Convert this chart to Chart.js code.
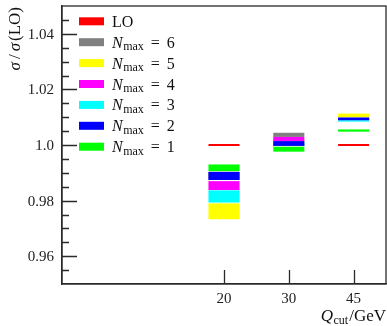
<!DOCTYPE html>
<html>
<head>
<meta charset="utf-8">
<script src="https://cdn.jsdelivr.net/npm/chart.js@4.4.0/dist/chart.umd.min.js"></script>
<style>
  html, body { margin: 0; padding: 0; background: #fff; }
  #wrap { width: 387px; height: 326px; }
</style>
</head>
<body>
<div id="wrap"><canvas id="myChart" width="387" height="326"></canvas></div>
<script>
// Q_cut categories (two empty slots keep the left part of the axis free)
const qcut = ["20", "30", "45"];
const emptySlots = ["", ""];

// y axis ticks
const yTicks = [0.96, 0.98, 1.0, 1.02, 1.04];
const yTickLabels = ["0.96", "0.98", "1.0", "1.02", "1.04"];
const yMinorTicks = [0.955, 0.965, 0.97, 0.975, 0.985, 0.99, 0.995,
  1.005, 1.01, 1.015, 1.025, 1.03, 1.035, 1.045];

// sigma / sigma(LO), bands [low, high] per Q_cut
const loValues = [1.0, 1.0, 1.0];
const nmax1 = [[0.9906, 0.9930], [0.9976, 0.9994], [1.0048, 1.0056]];
const nmax2 = [[0.9874, 0.9903], [0.9997, 1.0014], [1.0089, 1.0099]];
const nmax3 = [[0.9793, 0.9837], [0.9998, 1.0012], [1.0084, 1.0089]];
const nmax4 = [[0.9838, 0.9870], [1.0014, 1.0029], [1.0090, 1.0096]];
const nmax5 = [[0.9733, 0.9790], [1.0005, 1.0025], [1.0099, 1.0113]];
const nmax6 = [[0.9876, 0.9904], [1.0029, 1.0044], [1.0090, 1.0097]];

const nmaxNames = ["1", "2", "3", "4", "5", "6"];
const nmaxBands = [nmax1, nmax2, nmax3, nmax4, nmax5, nmax6];
const nmaxColors = ["#00ff00", "#0000ff", "#00ffff", "#ff00ff", "#ffff00", "#808080"];
const loColor = "#ff0000";

const SERIF = "'Liberation Serif', serif";

function drawPieces(ctx, pieces, x, y) {
  pieces.forEach((p) => {
    ctx.font = p.font;
    ctx.fillText(p.t, x, y + (p.dy || 0));
    x += ctx.measureText(p.t).width + (p.gap || 0);
  });
  return x;
}

function piecesWidth(ctx, pieces) {
  let w = 0;
  pieces.forEach((p) => {
    ctx.font = p.font;
    w += ctx.measureText(p.t).width + (p.gap || 0);
  });
  return w;
}

// frame, inward ticks, tick labels, legend and axis titles
const decor = {
  id: "decor",
  afterDraw(chart) {
    const { ctx, chartArea: a, scales: { x, y } } = chart;
    ctx.save();
    ctx.strokeStyle = "#2a2a2a";
    ctx.lineWidth = 1.3;
    ctx.strokeRect(a.left, a.top, a.right - a.left, a.bottom - a.top);

    ctx.beginPath();
    yTicks.forEach((v) => {
      const py = Math.round(y.getPixelForValue(v)) + 0.5;
      ctx.moveTo(a.left, py);
      ctx.lineTo(a.left + 15, py);
    });
    yMinorTicks.forEach((v) => {
      const py = Math.round(y.getPixelForValue(v)) + 0.5;
      ctx.moveTo(a.left, py);
      ctx.lineTo(a.left + 7, py);
    });
    qcut.forEach((c) => {
      const px = Math.round(x.getPixelForValue(c)) + 0.5;
      ctx.moveTo(px, a.bottom);
      ctx.lineTo(px, a.bottom - 14);
    });
    ctx.stroke();

    // tick labels
    ctx.fillStyle = "#222";
    ctx.font = "15px " + SERIF;
    ctx.textAlign = "right";
    ctx.textBaseline = "middle";
    yTicks.forEach((v, i) => {
      ctx.fillText(yTickLabels[i], a.left - 8, y.getPixelForValue(v) + 1);
    });
    ctx.textAlign = "center";
    qcut.forEach((c) => {
      ctx.fillText(c, x.getPixelForValue(c), a.bottom + 15);
    });
    ctx.textAlign = "left";

    // legend
    const rows = [{ color: loColor, label: null }];
    for (let i = nmaxNames.length - 1; i >= 0; i--) {
      rows.push({ color: nmaxColors[i], label: nmaxNames[i] });
    }
    ctx.textBaseline = "alphabetic";
    rows.forEach((r, i) => {
      const cy = 21.3 + i * 20.9;
      ctx.fillStyle = r.color;
      ctx.fillRect(79, cy - 4, 25, 8);
      ctx.fillStyle = "#111";
      if (r.label === null) {
        drawPieces(ctx, [{ t: "LO", font: "16px " + SERIF }], 112, cy + 5.5);
      } else {
        drawPieces(ctx, [
          { t: "N", font: "italic 16px " + SERIF, gap: 0.5 },
          { t: "max", font: "12px " + SERIF, dy: 2.5, gap: 7 },
          { t: "=", font: "16px " + SERIF, gap: 7 },
          { t: r.label, font: "16px " + SERIF },
        ], 112, cy + 5.5);
      }
    });

    // y title, rotated, aligned to the top
    const yTitle = [
      { t: "σ", font: "italic 17px " + SERIF, gap: 3 },
      { t: "/", font: "17px " + SERIF, gap: 3 },
      { t: "σ", font: "italic 17px " + SERIF, gap: 2 },
      { t: "(LO)", font: "17px " + SERIF },
    ];
    ctx.save();
    ctx.translate(20, 7);
    ctx.rotate(-Math.PI / 2);
    drawPieces(ctx, yTitle, -piecesWidth(ctx, yTitle), 0);
    ctx.restore();

    // x title, right aligned
    const xTitle = [
      { t: "Q", font: "italic 17px " + SERIF, gap: 0.5 },
      { t: "cut", font: "12px " + SERIF, dy: 3, gap: 1 },
      { t: "/GeV", font: "17px " + SERIF },
    ];
    drawPieces(ctx, xTitle, 386 - piecesWidth(ctx, xTitle), 321);
    ctx.restore();
  },
};

window.addEventListener("load", setup);

function setup() {
  const ctx = document.getElementById("myChart").getContext("2d");

  const datasets = nmaxBands.map((band, i) => ({
    type: "bar",
    label: "Nmax = " + nmaxNames[i],
    data: qcut.map((c, k) => ({ x: c, y: band[k] })),
    backgroundColor: nmaxColors[i],
    borderWidth: 0,
    grouped: false,
    barPercentage: 0.48,
    categoryPercentage: 1.0,
  }));
  datasets.push({
    type: "line",
    label: "LO",
    data: qcut.map((c, k) => ({ x: c, y: loValues[k] })),
    showLine: false,
    pointStyle: "line",
    pointRadius: 15.5,
    pointHoverRadius: 15.5,
    pointBorderWidth: 2,
    pointBorderColor: loColor,
    borderColor: loColor,
  });

  new Chart(ctx, {
    type: "bar",
    data: { labels: emptySlots.concat(qcut), datasets },
    options: {
      responsive: false,
      animation: false,
      layout: { autoPadding: false, padding: { top: 6, right: 1, left: 0, bottom: 0 } },
      plugins: { legend: { display: false }, tooltip: { enabled: false } },
      scales: {
        x: {
          type: "category",
          offset: true,
          grid: { display: false, drawTicks: false },
          border: { display: true, color: "#2a2a2a", width: 1.3 },
          ticks: { display: false },
          afterFit: (s) => { s.height = 42; },
        },
        y: {
          min: 0.95,
          max: 1.05,
          grid: { display: false, drawTicks: false },
          border: { display: true, color: "#2a2a2a", width: 1.3 },
          ticks: { display: false },
          afterBuildTicks: (s) => { s.ticks = yTicks.map((v) => ({ value: v })); },
          afterFit: (s) => { s.width = 62; },
        },
      },
    },
    plugins: [decor],
  });
}
</script>
</body>
</html>
